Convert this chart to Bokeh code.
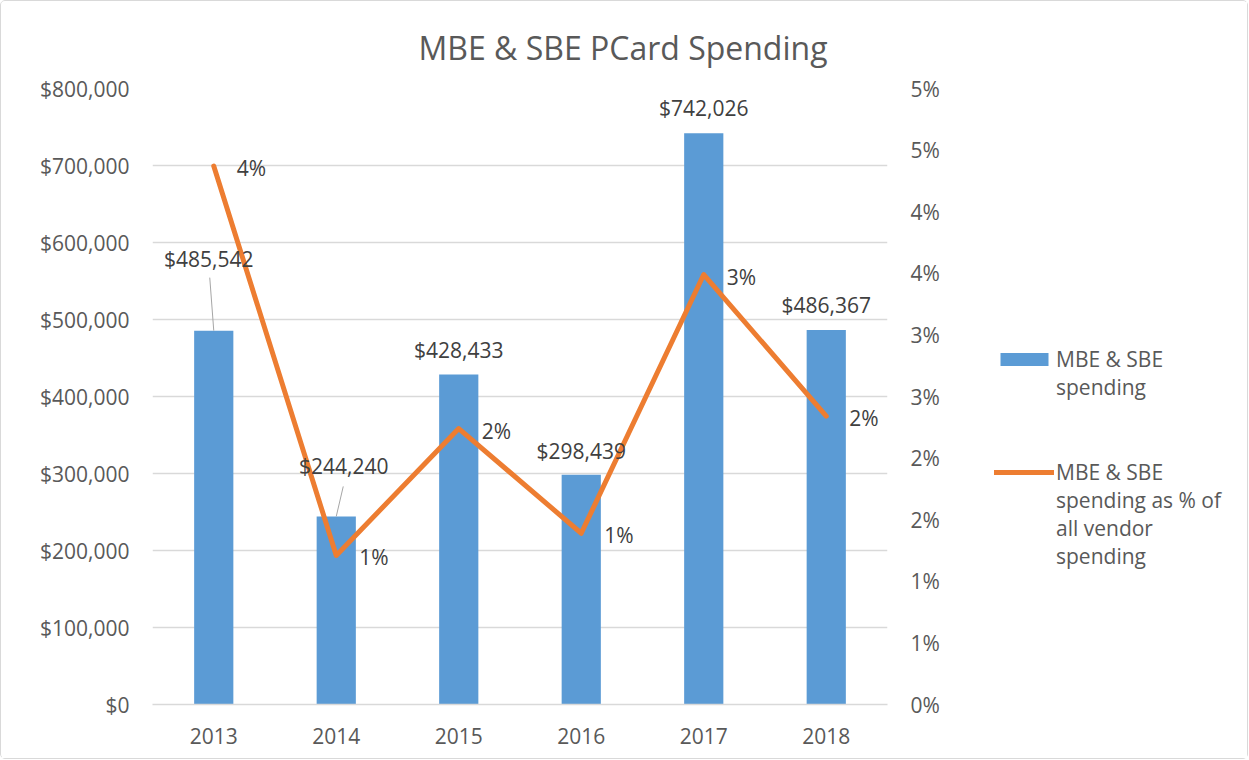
from bokeh.plotting import figure
from bokeh.layouts import row
from bokeh.models import (Range1d, LinearAxis, NumeralTickFormatter, CustomJSTickFormatter,
                          SingleIntervalTicker, Legend, LegendItem, ColumnDataSource, FactorRange)
from bokeh.core.properties import value
from bokeh.embed import file_html
from bokeh.resources import INLINE

# ---------------- data ----------------
years = ["2013", "2014", "2015", "2016", "2017", "2018"]
spending = [485542, 244240, 428433, 298439, 742026, 486367]
pct_of_all_vendor = [4.37, 1.21, 2.24, 1.39, 3.49, 2.34]
left_max, left_step = 800000, 100000
right_max, right_step = 5, 0.5
title_text = "MBE & SBE PCard Spending"
legend_bar_lines = ["MBE & SBE", "spending"]
legend_line_lines = ["MBE & SBE", "spending as % of", "all vendor", "spending"]

# ---------------- layout / style ----------------
FONT = "Open Sans"
FS = "21px"
W_TOTAL, H = 1246, 757
WP = 960                      # width of the chart part
WL = W_TOTAL - WP             # width of the legend part
BL, BT, BB = 151, 87, 54
FRAME_W = 735
FRAME_H = H - BT - BB
BR = WP - BL - FRAME_W
BAR_COLOR = "#5B9BD5"
LINE_COLOR = "#ED7D31"
TXT = "#595959"
LBL = "#404040"
GRID = "#d9d9d9"

# label offsets (px) for the bar data labels; first two are moved with leader lines
lbl_dx = [-5, 7.5, 0, 0, 0, 0]
lbl_dy = [-72, -50, -25, -24, -25, -25]
leader_idx = [0, 1]
leader_end_dx = [-4, 7]
leader_end_dy = [-53, -30]

src = ColumnDataSource(dict(
    year=years,
    spend=spending,
    pct=pct_of_all_vendor,
    spend_label=[f"${v:,}" for v in spending],
    pct_label=[f"{round(v)}%" for v in pct_of_all_vendor],
    lbl_dx=lbl_dx,
    lbl_dy=lbl_dy,
))

p = figure(x_range=FactorRange(*years), y_range=Range1d(0, left_max),
           width=WP, height=H, min_border_left=BL, min_border_right=BR,
           min_border_top=BT, min_border_bottom=BB,
           output_backend="svg", toolbar_location=None, title=title_text)
p.extra_y_ranges = {"pct": Range1d(0, right_max)}
p.outline_line_color = None
p.background_fill_color = "white"
p.border_fill_color = "white"

# bars
bar_style = dict(fill_color=BAR_COLOR, line_color=None)
line_style = dict(line_color=LINE_COLOR, line_width=5, line_join="round", line_cap="round")
bars = p.vbar(x="year", top="spend", width=0.32, source=src, **bar_style)

# line
line = p.line(x="year", y="pct", source=src, y_range_name="pct", **line_style)

# leader lines
cat_px = FRAME_W / len(years)
lead = ColumnDataSource(dict(
    x0=[years[i] for i in leader_idx],
    y0=[spending[i] for i in leader_idx],
    x1=[(years[i], dx / cat_px) for i, dx in zip(leader_idx, leader_end_dx)],
    y1=[spending[i] - dy * left_max / FRAME_H for i, dy in zip(leader_idx, leader_end_dy)],
))
p.segment(x0="x0", y0="y0", x1="x1", y1="y1", source=lead, line_color="#a6a6a6", line_width=1)

# data labels
p.text(x="year", y="spend", text="spend_label", source=src, x_offset="lbl_dx", y_offset="lbl_dy",
       text_align="center", text_baseline="middle", text_font=value(FONT),
       text_font_size=FS, text_color=LBL)
p.text(x="year", y="pct", text="pct_label", source=src, y_range_name="pct",
       x_offset=23, y_offset=2, text_align="left", text_baseline="middle",
       text_font=value(FONT), text_font_size=FS, text_color=LBL)

# axes
p.yaxis.ticker = SingleIntervalTicker(interval=left_step, num_minor_ticks=0)
p.yaxis.formatter = NumeralTickFormatter(format="$0,0")
ax_r = LinearAxis(y_range_name="pct",
                  ticker=SingleIntervalTicker(interval=right_step, num_minor_ticks=0),
                  formatter=CustomJSTickFormatter(code="return Math.round(tick + 1e-9) + '%';"))
p.add_layout(ax_r, "right")

for ax in [p.xaxis[0], p.yaxis[0], ax_r]:
    ax.major_label_text_font = FONT
    ax.major_label_text_font_size = FS
    ax.major_label_text_color = TXT
    ax.major_tick_line_color = None
    ax.minor_tick_line_color = None
    ax.major_tick_out = 0
    ax.major_tick_in = 0
    ax.axis_line_color = None
    ax.major_label_standoff = 23
p.xaxis.axis_line_color = GRID
p.xaxis.axis_line_width = 1.5
p.xaxis.major_label_standoff = 23

p.xgrid.grid_line_color = None
p.ygrid.ticker = p.yaxis[0].ticker
p.ygrid.grid_line_color = GRID
p.ygrid.grid_line_width = 1.3

# title
p.title.text_font = FONT
p.title.text_font_size = "32px"
p.title.text_font_style = "normal"
p.title.text_color = TXT
p.title.align = "left"
p.title.offset = 266
p.title.standoff = 39

# legend panel (separate canvas to the right of the chart); its glyphs are hidden
# stand-ins of the chart's two series, used only for the legend swatches
lf = figure(width=WL, height=H, x_range=Range1d(0, 1), y_range=Range1d(0, 1),
            min_border=0, x_axis_location=None, y_axis_location=None,
            output_backend="svg", toolbar_location=None)
lf.outline_line_color = None
lf.grid.grid_line_color = None
lf.background_fill_color = "white"
lf.border_fill_color = "white"
lbar = lf.vbar(x="pct", top="pct", width=0.3, source=src, visible=False, **bar_style)
lline = lf.line(x="pct", y="pct", source=src, visible=False, **line_style)
lblank = lf.line(x="pct", y="pct", source=src, visible=False, line_alpha=0)

legend_style = dict(orientation="vertical", padding=0, spacing=0, margin=0,
                    label_standoff=2, glyph_width=60, glyph_height=16,
                    border_line_color=None, background_fill_alpha=0,
                    inactive_fill_alpha=0,
                    label_text_font=FONT, label_text_font_size=FS,
                    label_text_color=TXT)

leg_a = Legend(items=[LegendItem(label=legend_bar_lines[0], renderers=[lbar]),
                      LegendItem(label="\n".join(legend_bar_lines[1:]), renderers=[lblank])],
               location=(33, 303), **legend_style)
leg_b = Legend(items=[LegendItem(label=legend_line_lines[0], renderers=[lline]),
                      LegendItem(label="\n".join(legend_line_lines[1:]), renderers=[lblank])],
               location=(33, 134), **legend_style)
lf.add_layout(leg_a, "center")
lf.add_layout(leg_b, "center")

layout = row(p, lf)
layout.styles = {"border": "1px solid #d9d9d9", "border-radius": "5px"}

open("out.html", "w").write(file_html(layout, INLINE))
